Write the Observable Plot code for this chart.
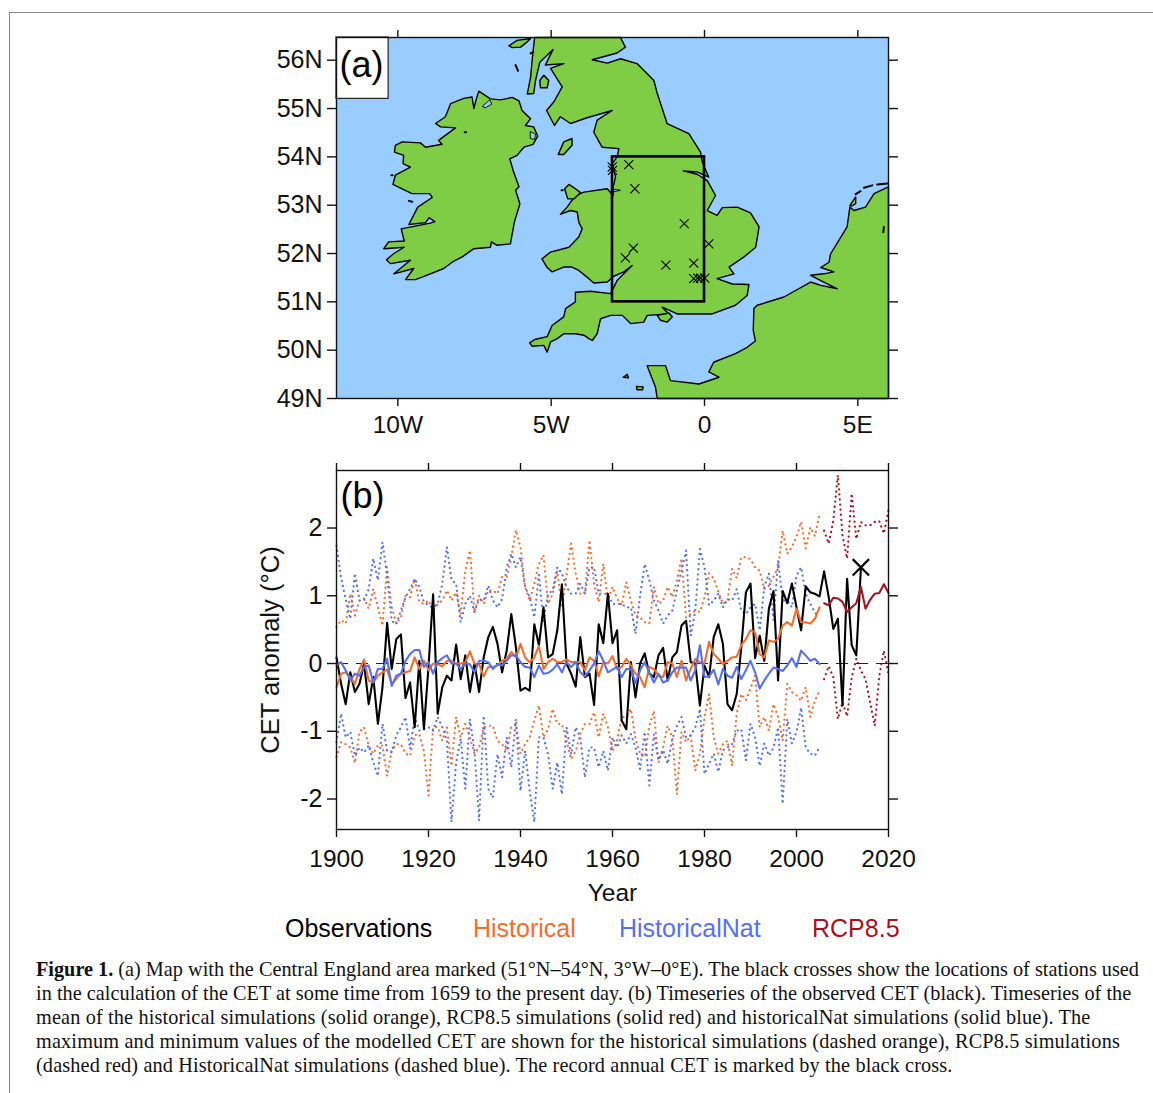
<!DOCTYPE html>
<html><head><meta charset="utf-8">
<script src="https://cdn.jsdelivr.net/npm/d3@7"></script>
<script src="https://cdn.jsdelivr.net/npm/@observablehq/plot@0.6"></script>
<style>
html,body{margin:0;padding:0;background:#fff;width:1153px;height:1093px;overflow:hidden}
#page{position:relative;width:1153px;height:1093px;font-family:"Liberation Sans",Arial,sans-serif}
#rule{position:absolute;left:9px;top:12px;width:1144px;height:1081px;border-left:1.5px solid #888;border-top:1.5px solid #888;box-sizing:border-box}
.panel{position:absolute;left:0}
.leg{position:absolute;top:913px;font-size:25px;line-height:30px;white-space:nowrap}
#cap{position:absolute;left:36px;top:957px;font-family:"Liberation Serif",serif;font-size:20.25px;line-height:24px;color:#111;white-space:nowrap}
#cap div{height:24px}
</style></head><body><div id="page">
<div id="rule"></div>
<div id="a" class="panel" style="top:0"></div>
<div id="b" class="panel" style="top:450px"></div>
<div class="leg" style="left:285px;color:#000">Observations</div>
<div class="leg" style="left:473px;color:#f46d2a">Historical</div>
<div class="leg" style="left:619px;color:#5570f0">HistoricalNat</div>
<div class="leg" style="left:812px;color:#a8121a">RCP8.5</div>
<div id="cap">
<div><b>Figure 1.</b> (a) Map with the Central England area marked (51°N–54°N, 3°W–0°E). The black crosses show the locations of stations used</div>
<div style="letter-spacing:.03px">in the calculation of the CET at some time from 1659 to the present day. (b) Timeseries of the observed CET (black). Timeseries of the</div>
<div style="letter-spacing:.15px">mean of the historical simulations (solid orange), RCP8.5 simulations (solid red) and historicalNat simulations (solid blue). The</div>
<div style="letter-spacing:.16px">maximum and minimum values of the modelled CET are shown for the historical simulations (dashed orange), RCP8.5 simulations</div>
<div style="letter-spacing:.13px">(dashed red) and HistoricalNat simulations (dashed blue). The record annual CET is marked by the black cross.</div>
</div>
</div>
<script>
// ---- panel (a): coastlines as [lon, lat]
const ireland=[[-7.36,55.36],[-6.98,55.20],[-6.65,55.18],[-6.27,55.23],[-6.05,55.16],[-5.95,54.96],[-5.67,54.79],[-5.84,54.65],[-5.57,54.62],[-5.44,54.43],[-5.59,54.26],[-5.89,54.20],[-6.11,54.03],[-6.35,53.96],[-6.24,53.72],[-6.05,53.38],[-6.16,53.31],[-6.02,53.03],[-6.20,52.65],[-6.33,52.20],[-6.76,52.17],[-6.95,52.24],[-6.98,52.13],[-7.52,52.10],[-7.90,51.93],[-8.23,51.82],[-8.50,51.69],[-9.21,51.51],[-9.43,51.46],[-9.75,51.46],[-9.48,51.69],[-10.13,51.58],[-9.59,51.86],[-10.24,51.79],[-10.37,51.87],[-10.13,52.00],[-9.79,52.13],[-10.46,52.10],[-10.30,52.24],[-9.79,52.26],[-9.89,52.51],[-8.94,52.63],[-8.79,52.66],[-8.98,52.74],[-9.10,52.64],[-9.64,52.60],[-9.35,52.96],[-8.88,53.16],[-8.96,53.24],[-9.54,53.24],[-9.86,53.34],[-10.16,53.43],[-10.08,53.62],[-9.59,53.79],[-9.83,53.86],[-9.81,54.03],[-10.11,54.10],[-10.08,54.24],[-9.86,54.31],[-9.26,54.29],[-9.10,54.20],[-8.56,54.26],[-8.67,54.34],[-8.12,54.60],[-8.61,54.62],[-8.77,54.69],[-8.45,54.83],[-8.28,55.10],[-7.85,55.21],[-7.58,55.24],[-7.52,55.0],[-7.44,55.2]];
const britain=[[-5.54,56.47],[-2.74,56.47],[-2.58,56.27],[-2.85,56.15],[-3.66,56.01],[-3.17,55.94],[-2.74,56.03],[-2.20,55.93],[-1.65,55.58],[-1.54,55.31],[-1.22,54.69],[-0.51,54.48],[-0.13,54.10],[-0.07,53.89],[0.14,53.58],[-0.24,53.69],[-0.69,53.71],[-0.24,53.64],[0.09,53.51],[0.36,53.20],[0.09,52.89],[0.41,52.79],[0.58,52.95],[1.07,52.96],[1.50,52.84],[1.78,52.55],[1.67,52.13],[1.29,51.93],[0.80,51.72],[0.96,51.58],[0.41,51.48],[0.91,51.37],[1.45,51.36],[1.39,51.13],[1.01,50.93],[0.25,50.75],[-0.89,50.75],[-1.38,50.89],[-1.16,50.75],[-1.87,50.72],[-1.98,50.58],[-2.41,50.55],[-2.68,50.72],[-3.06,50.72],[-3.39,50.65],[-3.50,50.34],[-3.66,50.20],[-3.77,50.24],[-3.93,50.31],[-4.21,50.34],[-4.59,50.34],[-4.80,50.24],[-5.02,50.17],[-5.13,49.96],[-5.24,50.10],[-5.62,50.08],[-5.70,50.15],[-5.54,50.22],[-5.13,50.28],[-4.97,50.51],[-4.59,50.69],[-4.53,50.86],[-4.21,51.0],[-4.21,51.20],[-3.72,51.22],[-3.06,51.17],[-2.85,51.44],[-2.36,51.75],[-2.63,51.62],[-2.96,51.53],[-3.17,51.41],[-3.61,51.39],[-3.77,51.48],[-4.10,51.65],[-4.32,51.72],[-4.59,51.72],[-4.97,51.62],[-5.13,51.71],[-5.30,51.89],[-5.02,52.03],[-4.42,52.13],[-4.10,52.34],[-3.99,52.51],[-4.10,52.65],[-4.15,52.86],[-4.37,52.89],[-4.70,52.81],[-4.48,52.96],[-4.21,53.20],[-3.93,53.27],[-3.17,53.34],[-2.98,53.2],[-2.98,53.38],[-2.90,53.58],[-3.01,53.86],[-2.85,54.0],[-2.79,54.17],[-3.34,54.20],[-3.61,54.51],[-3.50,54.76],[-3.01,54.96],[-3.83,54.81],[-4.37,54.69],[-4.70,54.83],[-4.89,54.65],[-5.15,54.96],[-4.91,55.14],[-4.64,55.45],[-5.02,55.83],[-4.59,55.93],[-5.19,55.90],[-4.94,56.22],[-5.37,55.96],[-5.51,55.58],[-5.57,55.31],[-5.78,55.30],[-5.67,55.65],[-5.62,56.0]];
const continent=[[6.0,53.38],[5.53,53.24],[5.25,52.96],[4.87,52.89],[4.74,52.96],[4.65,52.55],[4.11,51.99],[4.06,51.82],[3.79,51.71],[4.22,51.62],[3.89,51.58],[3.46,51.55],[3.89,51.41],[4.33,51.27],[3.79,51.34],[3.46,51.41],[2.59,51.10],[1.72,50.93],[1.61,50.86],[1.59,50.41],[1.66,50.19],[1.39,50.06],[1.01,49.93],[0.30,49.75],[0.14,49.55],[0.47,49.44],[-0.18,49.30],[-1.11,49.37],[-1.27,49.68],[-1.87,49.68],[-1.60,49.24],[-1.54,49.0],[6.0,49.0]];
const islay=[[-6.38,56.30],[-6.11,56.41],[-5.67,56.45],[-5.78,56.38],[-6.0,56.27],[-6.27,56.26]];
const arran=[[-5.37,55.58],[-5.24,55.69],[-5.08,55.58],[-5.13,55.43],[-5.35,55.43]];
const man=[[-4.77,54.05],[-4.59,54.31],[-4.32,54.38],[-4.32,54.24],[-4.59,54.05]];
const anglesey=[[-4.56,53.34],[-4.42,53.43],[-4.21,53.34],[-4.04,53.26],[-4.26,53.13],[-4.46,53.13]];
const wight=[[-1.54,50.72],[-1.16,50.77],[-1.05,50.69],[-1.22,50.58],[-1.44,50.62]];
const texel=[[4.74,52.99],[4.93,53.17],[4.93,53.03],[4.79,52.98]];
const guernsey=[[-2.65,49.44],[-2.52,49.50],[-2.48,49.43]];
const jersey=[[-2.22,49.25],[-2.0,49.24],[-2.02,49.18],[-2.2,49.18]];
const loughFoyle=[[-7.24,55.05],[-7.0,55.18],[-6.94,55.09],[-7.14,55.02]];
const loughNeagh=[[-5.67,54.52],[-5.51,54.47],[-5.54,54.36],[-5.67,54.38]];
const ribble=[[-2.96,53.33],[-2.74,53.31],[-2.94,53.28]];
const specks=[[[4.93,53.23],[5.09,53.29]],[[5.20,53.36],[5.47,53.41]],[[5.63,53.43],[5.96,53.45]],[[5.85,52.55],[5.83,52.44]],[[-6.16,55.90],[-6.08,55.78]],[[-5.67,56.14],[-5.59,56.17]],[[-9.64,53.09],[-9.53,53.07]],[[-7.82,54.51],[-7.78,54.51]],[[-4.66,53.31],[-4.62,53.31]],[[-10.21,53.62],[-10.17,53.62]]];
const stations=[[-2.47,53.84],[-2.27,53.34],[-0.66,52.62],[-2.32,52.11],[-2.58,51.91],[-1.26,51.76],[-0.35,51.80],[0.14,52.2],[-0.35,51.48],[-0.22,51.49],[-0.13,51.49],[0.01,51.49],[-3.01,53.79],[-3.0,53.72]];
const lonTicks=[-10,-5,0,5];
const lonLabels=["10W","5W","0","5E"];
const latTicks=[49,50,51,52,53,54,55,56];

// ---- panel (b): annual CET anomaly values, from 1900 unless noted
const obs=[.09,-.30,-.60,-.13,-.42,-.30,0,-.60,-.20,-.89,-.35,.60,-.08,.36,.43,-.51,-.28,-.94,.04,-.97,-.05,1.02,-.74,-.35,-.18,-.25,.28,-.23,.12,-.42,0,-.42,.09,.39,.54,.29,-.13,.19,.73,.24,-.40,-.36,-.40,.58,.27,.83,.09,.14,.49,1.17,0,-.15,-.34,.39,-.20,-.15,-.61,.58,.30,1.03,.30,.49,-.84,-.97,.02,-.50,0,.15,-.15,-.20,.12,.23,-.25,.09,.17,.56,.63,.02,0,-.62,-.03,-.20,.39,.58,.29,-.60,-.69,-.45,.24,1.05,1.18,.08,.41,.04,.81,1.07,-.25,1.07,.89,1.18,.83,.49,1.14,1.05,1.03,.99,1.36,.98,.51,.66,-.62,1.25,.27,.12,1.41];
const histMean=[-.35,-.15,-.13,-.20,-.30,-.08,.06,-.25,-.28,-.18,-.13,-.09,-.30,-.23,-.15,-.13,-.11,.09,-.08,.04,-.10,0,-.01,-.04,.04,.04,0,0,.02,.18,0,-.01,-.19,-.05,-.05,-.03,.04,.07,.17,.09,.29,.09,.02,.09,.26,-.08,.02,.07,.02,.02,.06,.02,.02,.02,-.10,.09,.04,-.19,.02,0,.11,-.08,-.05,.07,-.03,-.15,-.20,-.35,-.05,-.08,-.18,-.20,.02,0,-.20,.04,-.25,-.08,.07,.02,0,.32,.14,.07,-.01,.04,.09,.10,.27,.36,.49,.46,.14,.09,.34,.32,.36,.56,.61,.56,.81,.61,.61,.59,.66,.83];
const natMean=[-.03,.02,-.10,-.25,-.15,-.18,-.05,-.03,-.28,-.08,-.08,.07,-.33,-.18,-.15,.04,.14,.20,.20,-.05,.02,-.15,.02,.08,.12,0,0,-.08,0,-.01,-.13,.04,.04,.02,-.08,-.01,-.03,.04,.12,.12,.02,-.05,-.06,-.20,-.03,-.15,-.14,-.09,-.01,-.13,.02,-.05,.02,-.13,-.19,-.10,0,.18,.04,-.13,-.09,-.05,-.20,-.08,-.08,-.29,-.10,.02,-.13,-.28,-.15,-.28,-.25,-.13,-.06,-.06,-.06,-.25,-.10,.27,-.20,-.19,-.09,-.31,-.08,-.18,-.21,-.05,-.23,-.10,.04,-.13,-.37,-.25,-.15,-.06,-.08,-.11,-.03,.08,-.05,.19,.12,.04,.07,-.01];
const histMax=[.54,.64,.59,1.03,.71,.93,.96,.81,1.10,.83,.56,1.42,.83,.59,.68,1.0,.98,1.25,.91,.88,.93,.78,.88,.93,1.08,.93,1.05,.73,1.37,1.67,.76,1.0,.88,1.08,1.08,1.03,1.28,1.28,1.57,1.97,1.72,1.13,.93,1.18,1.47,1.60,.88,1.03,1.37,.83,1.30,1.77,1.33,1.03,1.03,1.82,1.18,.91,1.47,.93,1.13,.96,.86,1.20,.93,.71,.68,.61,.59,1.13,.88,.93,1.13,.98,1.23,1.55,.68,.73,.78,.76,.98,1.33,1.26,1.06,.88,.93,1.40,1.26,1.57,1.57,1.54,1.42,1.37,1.10,1.15,1.28,1.42,1.96,1.62,1.72,1.87,2.09,1.70,2.01,1.88,2.21];
const histMin=[-1.38,-1.16,-1.19,-1.24,-1.47,-1.01,-.94,-1.21,-1.33,-1.21,-1.21,-1.66,-1.29,-1.19,-1.19,-1.33,-1.36,-1.06,-1.04,-1.29,-1.95,-.94,-.94,-1.14,-.94,-1.51,-.79,-1.09,-.89,-1.09,-1.33,-1.24,-.94,-.92,-.92,-1.14,-1.19,-1.29,-.94,-.89,-1.33,-1.19,-1.09,-.84,-.62,-1.09,-.97,-.67,-.89,-.89,-1.14,-1.41,-1.29,-1.04,-.89,-.89,-.72,-1.09,-.74,-.94,-1.29,-1.14,-.79,-.79,-.67,-1.11,-1.33,-1.38,-.92,-.70,-1.46,-1.24,-.92,-1.09,-1.93,-1.01,-1.16,-1.06,-1.58,-1.33,-.79,-.45,-1.09,-1.33,-1.19,-1.14,-1.51,-.74,-.45,-.54,-.37,-.18,-.94,-.79,-.99,-.60,-.79,-1.14,-.30,-.42,-.47,-.55,-.35,-.79,-.55,-.40];
const natMax=[1.74,1.27,.95,.66,1.33,.93,.93,1.10,1.55,1.23,1.79,1.30,.63,.58,.78,.98,1.10,1.25,1.13,.91,.86,.83,.88,1.18,1.72,1.23,1.18,.61,.88,1.0,.76,.95,.93,1.15,.93,.83,.95,1.42,1.62,1.42,1.57,1.13,.98,.68,1.31,.63,1.03,1.08,1.42,1.33,1.13,1.03,1.03,1.18,1.03,1.42,1.42,1.03,1.03,1.03,.88,.88,.88,.83,.83,.44,1.00,1.47,1.23,.93,.78,.59,.71,.78,1.08,1.37,1.67,.41,.78,1.69,1.42,.86,.93,1.03,.83,.95,.93,1.10,.78,.73,.83,.88,.49,1.13,1.33,.64,1.52,.93,.93,.83,1.30,1.42,1.03,.88,.75,.70];
const natMin=[-1.16,-.74,-1.09,-1.01,-1.36,-1.24,-1.31,-1.21,-1.46,-1.66,-.89,-1.29,-1.31,-1.06,-.94,-.79,-1.26,-.79,-.99,-.97,-.94,-.99,-.79,-.94,-1.14,-2.34,-1.46,-1.11,-1.85,-.82,-1.29,-2.32,-.77,-1.85,-1.98,-1.34,-1.68,-1.09,-1.53,-.82,-1.88,-1.29,-1.88,-2.34,-1.09,-1.09,-1.34,-1.85,-1.46,-1.93,-.94,-1.34,-.94,-1.09,-1.68,-1.24,-1.24,-1.53,-1.29,-1.58,-1.09,-1.24,-1.06,-1.18,-1.04,-1.24,-1.56,-1.01,-1.80,-1.04,-1.43,-1.28,-1.48,-1.11,-.92,-.79,-1.09,-1.06,-.94,-.67,-1.63,-1.48,-1.33,-1.60,-1.28,-1.24,-1.19,-.99,-.97,-1.43,-.89,-1.09,-1.51,-1.18,-1.36,-1.24,-.94,-2.07,-.82,-1.18,-1.01,-.65,-1.24,-1.33,-1.36,-1.24];
// RCP8.5 series start in 2006
const rcpMean=[.89,.86,.97,.96,.91,.76,.83,.89,1.13,.81,.94,1.03,1.04,1.17,1.04];
const rcpMax=[1.96,1.77,2.11,2.78,1.89,1.55,2.51,1.84,2.09,2.04,2.04,2.09,2.10,1.92,2.26];
const rcpMin=[-.23,-.04,-.20,-.82,-.57,-.78,-.20,.07,-.10,-.23,-.57,-.92,-.18,.19,-.15];
const record=[{year:2014,value:1.42}];
const yearTicks=[1900,1920,1940,1960,1980,2000,2020];
const anomalyTicks=[-2,-1,0,1,2];

const colors={orange:"#f46d2a",blue:"#5570f0",red:"#a8121a"};
const land="#7fcd44",sea="#99ccff",ink="#111";
const font="Liberation Sans, Arial, sans-serif";

const shape=(name,pts)=>pts.map(p=>({name,lon:p[0],lat:p[1]}));
const landShapes=[["ireland",ireland],["britain",britain],["continent",continent],["islay",islay],["arran",arran],["man",man],["anglesey",anglesey],["wight",wight],["texel",texel],["guernsey",guernsey],["jersey",jersey]].flatMap(d=>shape(...d));
const waterShapes=[["foyle",loughFoyle],["neagh",loughNeagh],["ribble",ribble]].flatMap(d=>shape(...d));
const speckRows=specks.flatMap((s,i)=>shape("s"+i,s));
const boxRow=[{x1:-3,x2:0,y1:51,y2:54}];
const labelBox=[{x1:-12,x2:-10.3,y1:55.2,y2:56.47}];

const mapPlot=Plot.plot({
  width:1153,height:450,marginLeft:336,marginRight:265,marginTop:37,marginBottom:52,
  style:{fontFamily:font,background:"transparent",overflow:"visible"},
  x:{domain:[-12,6],axis:null},y:{domain:[49,56.47],axis:null},
  marks:[
    Plot.frame({fill:sea,stroke:null}),
    Plot.line(landShapes,{x:"lon",y:"lat",z:"name",fill:land,stroke:"#000",strokeWidth:1.4,curve:"linear-closed",strokeLinejoin:"round"}),
    Plot.line(waterShapes,{x:"lon",y:"lat",z:"name",fill:sea,stroke:"#000",strokeWidth:.9,curve:"linear-closed"}),
    Plot.line(speckRows,{x:"lon",y:"lat",z:"name",stroke:"#000",strokeWidth:2}),
    Plot.rect(boxRow,{x1:"x1",x2:"x2",y1:"y1",y2:"y2",stroke:"#000",strokeWidth:2.6,fill:null,inset:0}),
    Plot.dot(stations,{x:d=>d[0],y:d=>d[1],symbol:"times",r:4.2,stroke:"#000",strokeWidth:1.1}),
    Plot.rect(labelBox,{x1:"x1",x2:"x2",y1:"y1",y2:"y2",fill:"#fff",stroke:"#222",strokeWidth:1.2,inset:0}),
    Plot.text(["(a)"],{frameAnchor:"top-left",dx:3,dy:14,fontSize:36,fill:"#000",fontFamily:font}),
    Plot.frame({stroke:ink,strokeWidth:1.4}),
    Plot.axisX({anchor:"bottom",ticks:lonTicks,tickSize:8,tickPadding:9,fontSize:24.5,label:null,stroke:ink,strokeWidth:1.4,fill:ink,tickFormat:d=>lonLabels[lonTicks.indexOf(d)]}),
    Plot.axisX({anchor:"top",ticks:lonTicks,tickSize:8,label:null,stroke:ink,strokeWidth:1.4,tickFormat:()=>""}),
    Plot.axisY({anchor:"left",ticks:latTicks,tickSize:9,tickPadding:5,fontSize:25,label:null,stroke:ink,strokeWidth:1.4,fill:ink,tickFormat:d=>d+"N"}),
    Plot.axisY({anchor:"right",ticks:latTicks,tickSize:9,label:null,stroke:ink,strokeWidth:1.4,tickFormat:()=>""})
  ]
});
document.getElementById("a").append(mapPlot);

const seriesRows=(values,start)=>values.map((v,i)=>({year:start+i,value:v}));
const dotted=(values,start,stroke)=>Plot.line(seriesRows(values,start),{x:"year",y:"value",stroke,strokeWidth:2.2,strokeLinecap:"round",strokeDasharray:"0.1 5"});
const solid=(values,start,stroke,w)=>Plot.line(seriesRows(values,start),{x:"year",y:"value",stroke,strokeWidth:w,strokeLinejoin:"round"});

const timePlot=Plot.plot({
  width:1153,height:460,marginLeft:336,marginRight:265,marginTop:20,marginBottom:81,
  style:{fontFamily:font,background:"transparent",overflow:"visible"},
  x:{domain:[1900,2020],axis:null},y:{domain:[-2.45,2.849],axis:null},
  marks:[
    dotted(histMax,1900,colors.orange),dotted(histMin,1900,colors.orange),
    dotted(natMax,1900,colors.blue),dotted(natMin,1900,colors.blue),
    dotted(rcpMax,2006,colors.red),dotted(rcpMin,2006,colors.red),
    Plot.ruleY([0],{stroke:"#222",strokeWidth:1.1,strokeDasharray:"12 8"}),
    solid(obs,1900,"#000",2.1),
    solid(histMean,1900,colors.orange,2.1),
    solid(natMean,1900,colors.blue,2.1),
    solid(rcpMean,2006,colors.red,2.1),
    Plot.dot(record,{x:"year",y:"value",symbol:"times",r:7.5,stroke:"#000",strokeWidth:2.2}),
    Plot.text(["(b)"],{frameAnchor:"top-left",dx:4,dy:12,fontSize:36,fill:"#000",fontFamily:font}),
    Plot.frame({stroke:ink,strokeWidth:1.4}),
    Plot.axisX({anchor:"bottom",ticks:yearTicks,tickSize:8,tickPadding:12,fontSize:24.5,stroke:ink,strokeWidth:1.4,fill:ink,tickFormat:d=>String(d),label:"Year",labelAnchor:"center",labelArrow:"none",labelOffset:71}),
    Plot.axisX({anchor:"top",ticks:yearTicks,tickSize:8,label:null,stroke:ink,strokeWidth:1.4,tickFormat:()=>""}),
    Plot.axisY({anchor:"left",ticks:anomalyTicks,tickSize:9,tickPadding:5,fontSize:25,label:null,stroke:ink,strokeWidth:1.4,fill:ink,tickFormat:d=>String(d)}),
    Plot.text(["CET anomaly (°C)"],{frameAnchor:"left",dx:-66,rotate:-90,textAnchor:"middle",fontSize:25.6,fill:"#111",fontFamily:font}),
    Plot.axisY({anchor:"right",ticks:anomalyTicks,tickSize:9,label:null,stroke:ink,strokeWidth:1.4,tickFormat:()=>""})
  ]
});
document.getElementById("b").append(timePlot);
</script>
</body></html>
